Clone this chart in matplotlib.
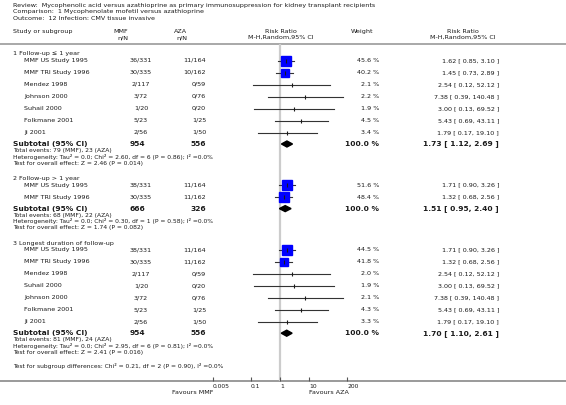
import matplotlib
matplotlib.use("Agg")
import matplotlib.pyplot as plt
from matplotlib.patches import Polygon

# titulo / cabecalho
review = "Review:  Mycophenolic acid versus azathioprine as primary immunosuppression for kidney transplant recipients"
comparison = "Comparison:  1 Mycophenolate mofetil versus azathioprine"
outcome = "Outcome:  12 Infection: CMV tissue invasive"

groups = ["1 Follow-up \u2264 1 year", "2 Follow-up > 1 year", "3 Longest duration of follow-up"]

# grupo 1
g1_studies = ["MMF US Study 1995", "MMF TRI Study 1996", "Mendez 1998", "Johnson 2000",
              "Suhail 2000", "Folkmane 2001", "Ji 2001"]
g1_mmf = ["36/331", "30/335", "2/117", "3/72", "1/20", "5/23", "2/56"]
g1_aza = ["11/164", "10/162", "0/59", "0/76", "0/20", "1/25", "1/50"]
g1_weight = [45.6, 40.2, 2.1, 2.2, 1.9, 4.5, 3.4]
g1_rr = [1.62, 1.45, 2.54, 7.38, 3.00, 5.43, 1.79]
g1_lo = [0.85, 0.73, 0.12, 0.39, 0.13, 0.69, 0.17]
g1_hi = [3.10, 2.89, 52.12, 140.48, 69.52, 43.11, 19.10]

# grupo 2
g2_studies = ["MMF US Study 1995", "MMF TRI Study 1996"]
g2_mmf = ["38/331", "30/335"]
g2_aza = ["11/164", "11/162"]
g2_weight = [51.6, 48.4]
g2_rr = [1.71, 1.32]
g2_lo = [0.90, 0.68]
g2_hi = [3.26, 2.56]

# grupo 3
g3_studies = ["MMF US Study 1995", "MMF TRI Study 1996", "Mendez 1998", "Suhail 2000",
              "Johnson 2000", "Folkmane 2001", "Ji 2001"]
g3_mmf = ["38/331", "30/335", "2/117", "1/20", "3/72", "5/23", "2/56"]
g3_aza = ["11/164", "11/162", "0/59", "0/20", "0/76", "1/25", "1/50"]
g3_weight = [44.5, 41.8, 2.0, 1.9, 2.1, 4.3, 3.3]
g3_rr = [1.71, 1.32, 2.54, 3.00, 7.38, 5.43, 1.79]
g3_lo = [0.90, 0.68, 0.12, 0.13, 0.39, 0.69, 0.17]
g3_hi = [3.26, 2.56, 52.12, 69.52, 140.48, 43.11, 19.10]

# subtotais
sub_mmf_n = [954, 666, 954]
sub_aza_n = [556, 326, 556]
sub_rr = [1.73, 1.51, 1.70]
sub_lo = [1.12, 0.95, 1.10]
sub_hi = [2.69, 2.40, 2.61]
sub_events = ["Total events: 79 (MMF), 23 (AZA)",
              "Total events: 68 (MMF), 22 (AZA)",
              "Total events: 81 (MMF), 24 (AZA)"]
sub_het = ["Heterogeneity: Tau\u00b2 = 0.0; Chi\u00b2 = 2.60, df = 6 (P = 0.86); I\u00b2 =0.0%",
           "Heterogeneity: Tau\u00b2 = 0.0; Chi\u00b2 = 0.30, df = 1 (P = 0.58); I\u00b2 =0.0%",
           "Heterogeneity: Tau\u00b2 = 0.0; Chi\u00b2 = 2.95, df = 6 (P = 0.81); I\u00b2 =0.0%"]
sub_z = ["Test for overall effect: Z = 2.46 (P = 0.014)",
         "Test for overall effect: Z = 1.74 (P = 0.082)",
         "Test for overall effect: Z = 2.41 (P = 0.016)"]
subgroup_test = "Test for subgroup differences: Chi\u00b2 = 0.21, df = 2 (P = 0.90), I\u00b2 =0.0%"

tick_vals = [0.005, 0.1, 1, 10, 200]
tick_labels = ["0.005", "0.1", "1", "10", "200"]

study_data = [
    (g1_studies, g1_mmf, g1_aza, g1_weight, g1_rr, g1_lo, g1_hi),
    (g2_studies, g2_mmf, g2_aza, g2_weight, g2_rr, g2_lo, g2_hi),
    (g3_studies, g3_mmf, g3_aza, g3_weight, g3_rr, g3_lo, g3_hi),
]

W, H = 566, 405
TXT = "#1a1a1a"
fs = 4.6
fs_small = 4.3
fs_bold = 5.4

fig = plt.figure(figsize=(W / 100, H / 100), dpi=100)
bg = fig.add_axes([0, 0, 1, 1])
bg.set_xlim(0, W)
bg.set_ylim(H, 0)
bg.axis("off")

# eixo do forest plot (escala log)
x0, x1 = 213, 347
fx = fig.add_axes([x0 / W, 0, (x1 - x0) / W, 1])
fx.set_xscale("log")
fx.set_xlim(0.005, 200)
fx.set_ylim(H, 0)
fx.patch.set_alpha(0)
for s in ["top", "left", "right", "bottom"]:
    fx.spines[s].set_visible(False)
fx.spines["bottom"].set_position(("data", 381))
fx.set_yticks([])
fx.set_xticks(tick_vals)
fx.set_xticklabels(tick_labels)
fx.minorticks_off()
fx.tick_params(axis="x", direction="in", length=3, width=0.8, color="#555555",
               labelsize=4.3, labelcolor=TXT, pad=2)
for lab in fx.get_xticklabels():
    lab.set_horizontalalignment("left")

# textos do cabecalho
bg.text(13, 5, review, fontsize=fs, color=TXT, va="center")
bg.text(13, 11.5, comparison, fontsize=fs, color=TXT, va="center")
bg.text(13, 18, outcome, fontsize=fs, color=TXT, va="center")

bg.text(13, 32, "Study or subgroup", fontsize=fs, color=TXT, va="center")
bg.text(128, 31.5, "MMF", fontsize=fs, color=TXT, va="center", ha="right")
bg.text(128, 37.5, "n/N", fontsize=fs, color=TXT, va="center", ha="right")
bg.text(187, 31.5, "AZA", fontsize=fs, color=TXT, va="center", ha="right")
bg.text(187, 37.5, "n/N", fontsize=fs, color=TXT, va="center", ha="right")
bg.text(281, 31.5, "Risk Ratio", fontsize=fs, color=TXT, va="center", ha="center")
bg.text(281, 37.5, "M-H,Random,95% CI", fontsize=fs, color=TXT, va="center", ha="center")
bg.text(362, 32, "Weight", fontsize=fs, color=TXT, va="center", ha="center")
bg.text(463, 31.5, "Risk Ratio", fontsize=fs, color=TXT, va="center", ha="center")
bg.text(463, 37.5, "M-H,Random,95% CI", fontsize=fs, color=TXT, va="center", ha="center")

bg.plot([0, W], [44, 44], color="#9a9a9a", lw=1.2)

# linha vertical no 1
fx.vlines(1, 44, 381, color="#cccccc", lw=1.6, zorder=1)

y = 54
for g, (names, mmf, aza, wts, rr, lo, hi) in enumerate(study_data):
    bg.text(13, y, groups[g], fontsize=fs, color=TXT, va="center")
    y += 6.5
    for i in range(len(names)):
        bg.text(24, y, names[i], fontsize=fs, color=TXT, va="center")
        bg.text(141, y, mmf[i], fontsize=fs, color=TXT, va="center", ha="center")
        bg.text(206, y, aza[i], fontsize=fs, color=TXT, va="center", ha="right")
        bg.text(379, y, f"{wts[i]:.1f} %", fontsize=fs, color=TXT, va="center", ha="right")
        bg.text(499, y, f"{rr[i]:.2f} [ {lo[i]:.2f}, {hi[i]:.2f} ]", fontsize=fs,
                color=TXT, va="center", ha="right")
        fx.plot([lo[i], hi[i]], [y, y], color="#333333", lw=0.8, zorder=2)
        side = 1.0 * wts[i] ** 0.5
        if side > 2.5:
            fx.plot(rr[i], y, marker="s", ms=side, color="#0000ff", mec="#0000ff",
                    zorder=3)
        fx.plot(rr[i], y, marker="|", ms=3.2, mew=0.8, color="#1a1a1a", zorder=4)
        y += 12
    y -= 0.5
    bg.text(13, y, "Subtotal (95% CI)", fontsize=fs_bold, color=TXT, va="center",
            fontweight="bold")
    bg.text(145, y, str(sub_mmf_n[g]), fontsize=fs_bold, color=TXT, va="center",
            ha="right", fontweight="bold")
    bg.text(206, y, str(sub_aza_n[g]), fontsize=fs_bold, color=TXT, va="center",
            ha="right", fontweight="bold")
    bg.text(379, y, "100.0 %", fontsize=fs_bold, color=TXT, va="center", ha="right",
            fontweight="bold")
    bg.text(499, y, f"{sub_rr[g]:.2f} [ {sub_lo[g]:.2f}, {sub_hi[g]:.2f} ]",
            fontsize=fs_bold, color=TXT, va="center", ha="right", fontweight="bold")
    diamond = Polygon([(sub_lo[g], y), (sub_rr[g], y - 3), (sub_hi[g], y),
                       (sub_rr[g], y + 3)], closed=True, color="black", zorder=4)
    fx.add_patch(diamond)
    y += 6.5
    bg.text(13, y, sub_events[g], fontsize=fs_small, color=TXT, va="center")
    y += 6.3
    bg.text(13, y, sub_het[g], fontsize=fs_small, color=TXT, va="center")
    y += 6.3
    bg.text(13, y, sub_z[g], fontsize=fs_small, color=TXT, va="center")
    y += 15.5

bg.text(13, 366, subgroup_test, fontsize=fs_small, color=TXT, va="center")

# eixo horizontal
bg.plot([0, W], [381, 381], color="#9a9a9a", lw=1.4, zorder=0)
bg.text(213, 393, "Favours MMF", fontsize=fs, color=TXT, va="center", ha="right")
bg.text(309, 393, "Favours AZA", fontsize=fs, color=TXT, va="center", ha="left")

plt.savefig("out.png", dpi=100)
